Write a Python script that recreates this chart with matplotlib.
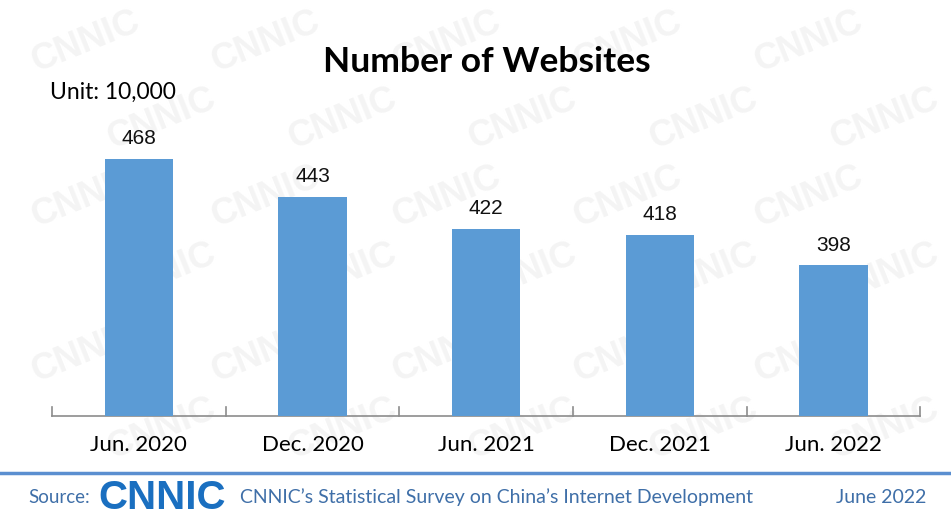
import matplotlib.pyplot as plt
import numpy as np

# data
categories = ['Jun. 2020', 'Dec. 2020', 'Jun. 2021', 'Dec. 2021', 'Jun. 2022']
websites = [468, 443, 422, 418, 398]

bar_color = '#5b9bd5'
font_cal = ['Lato', 'DejaVu Sans']
font_ar = ['Liberation Sans', 'DejaVu Sans']

fig = plt.figure(figsize=(9.51, 5.17), dpi=100)

# faint CNNIC watermark, kept behind the chart
for row in range(6):
    for col in range(5):
        xw = 0.09 + col * 0.19 + (row % 2) * 0.08
        yw = 0.92 - row * 0.15
        fig.text(xw, yw, 'CNNIC', fontsize=26, fontweight='bold', color='#f4f4f4',
                 rotation=22, ha='center', va='center', family=font_ar, zorder=-5)

ax = fig.add_axes([0.0547, 0.1954, 0.913, 0.592])
ax.patch.set_alpha(0)
x = np.arange(len(categories))
bars = ax.bar(x, websites, width=0.395, color=bar_color, zorder=3)
ax.set_ylim(299, 500)
ax.set_xlim(-0.5, len(categories) - 0.5)

for xi, v in zip(x, websites):
    ax.text(xi, v + 7, str(v), ha='center', va='bottom', fontsize=15,
            family=font_ar, color='#111111')

for s in ['top', 'right', 'left']:
    ax.spines[s].set_visible(False)
ax.spines['bottom'].set_color('#8c8c8c')
ax.spines['bottom'].set_linewidth(1.2)
ax.set_yticks([])
ax.set_xticks(x)
ax.set_xticklabels(categories, fontsize=16, family=font_cal)
ax.tick_params(axis='x', length=0, pad=14)
# separator ticks between categories
for b in np.arange(-0.5, len(categories), 1.0):
    ax.plot([b, b], [299, 305], color='#8c8c8c', lw=1.2, clip_on=False, zorder=4)

fig.text(0.512, 0.88, 'Number of Websites', ha='center', va='center',
         fontsize=25.5, fontweight='bold', family=font_cal)
fig.text(0.053, 0.822, 'Unit: 10,000', ha='left', va='center',
         fontsize=16.5, family=font_cal)

# footer
fig.add_artist(plt.Line2D([0, 1], [0.085, 0.085], color='#5b8fd0', lw=2.5))
foot_color = '#3f6fa8'
fig.text(0.03, 0.038, 'Source:', ha='left', va='center', fontsize=13.5,
         color=foot_color, family=font_cal)
fig.text(0.103, 0.036, 'CNNIC', ha='left', va='center', fontsize=29,
         fontweight='heavy', color='#1a6fc0', family=font_ar)
fig.text(0.252, 0.038, 'CNNIC\u2019s Statistical Survey on China\u2019s Internet Development',
         ha='left', va='center', fontsize=14, color=foot_color, family=font_cal)
fig.text(0.974, 0.038, 'June 2022', ha='right', va='center', fontsize=14,
         color=foot_color, family=font_cal)

fig.savefig('out.png', dpi=100)
